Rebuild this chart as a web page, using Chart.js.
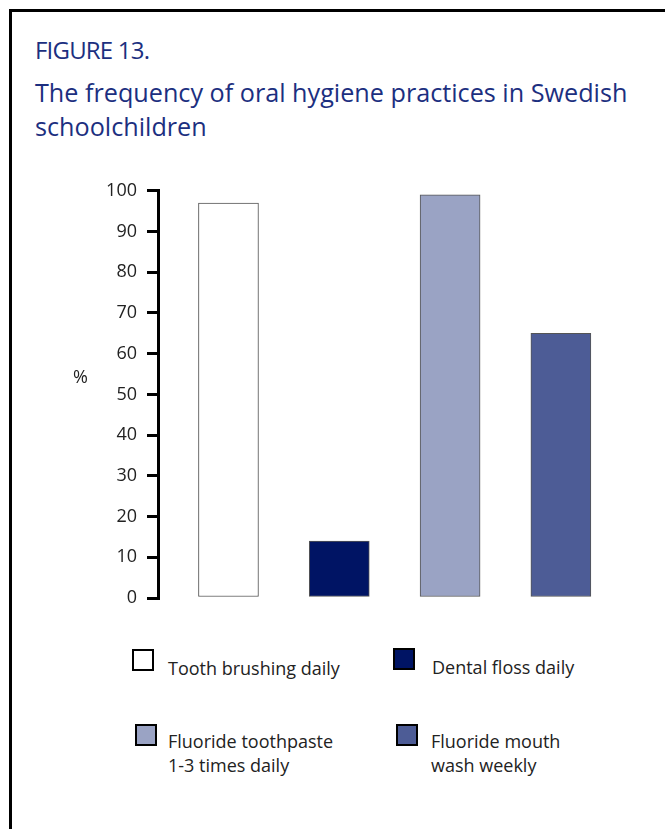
<!DOCTYPE html>
<html>
<head>
<meta charset="utf-8">
<script src="https://cdn.jsdelivr.net/npm/chart.js@4/dist/chart.umd.min.js"></script>
<style>
  body { margin: 0; background: #fff; width: 665px; height: 829px; overflow: hidden; position: relative; font-family: "Open Sans", sans-serif; }
  .frame { position: absolute; left: 9px; top: 9px; width: 700px; height: 900px; border-left: 3px solid #000; border-top: 3px solid #000; }
  .fig { position: absolute; left: 35px; top: 38px; font-size: 24px; line-height: 24px; color: #1c2f80; letter-spacing: -0.8px; }
  .sub { position: absolute; left: 35px; top: 75px; font-size: 25.2px; line-height: 34px; color: #1c2f80; width: 625px; }
  #chart { position: absolute; left: 0; top: 170px; }
  .pct { position: absolute; left: 73px; top: 364px; font-size: 18px; line-height: 24px; color: #222; }
  .leg { position: absolute; font-size: 18px; line-height: 24px; color: #222; }
  .box { position: absolute; width: 22px; height: 22px; box-sizing: border-box; border: 2.5px solid #000; }
</style>
</head>
<body>
<div class="frame"></div>
<div class="fig">FIGURE 13.</div>
<div class="sub">The frequency of oral hygiene practices in Swedish schoolchildren</div>
<canvas id="chart" width="665" height="450"></canvas>
<div class="pct">%</div>
<div id="legend"></div>
<script>
// Data
const categories = ['Tooth brushing daily', 'Dental floss daily', 'Fluoride toothpaste 1-3 times daily', 'Fluoride mouth wash weekly'];
const legendLines = [['Tooth brushing daily'], ['Dental floss daily'], ['Fluoride toothpaste', '1-3 times daily'], ['Fluoride mouth', 'wash weekly']];
const values = [97, 14, 99, 65];
const barColors = ['#ffffff', '#001464', '#9aa3c4', '#4d5c96'];
const yTicks = [0, 10, 20, 30, 40, 50, 60, 70, 80, 90, 100];

// legend, 2 x 2 grid
const legendPos = [
    { box: [132, 649], text: [168, 656] },
    { box: [393, 648], text: [432, 655] },
    { box: [135, 724], text: [168, 729] },
    { box: [396, 724], text: [431, 729] }
];
const legendEl = document.getElementById('legend');
legendLines.forEach((lines, i) => {
    const p = legendPos[i];
    const b = document.createElement('div');
    b.className = 'box';
    b.style.left = p.box[0] + 'px';
    b.style.top = p.box[1] + 'px';
    b.style.background = barColors[i];
    legendEl.appendChild(b);
    const t = document.createElement('div');
    t.className = 'leg';
    t.style.left = p.text[0] + 'px';
    t.style.top = p.text[1] + 'px';
    t.innerHTML = lines.join('<br>');
    legendEl.appendChild(t);
});

const ctx = document.getElementById('chart');
new Chart(ctx, {
    type: 'bar',
    data: {
        datasets: [{
            label: '%',
            data: values.map((v, i) => ({ x: i + 1, y: v })),
            backgroundColor: barColors,
            borderColor: '#555',
            borderWidth: 1,
            borderSkipped: false,
            barThickness: 60
        }]
    },
    options: {
        responsive: false,
        animation: false,
        layout: { padding: { top: 19, bottom: 22, right: 25, left: 0 } },
        plugins: {
            legend: { display: false },
            tooltip: { enabled: false }
        },
        scales: {
            x: {
                type: 'linear',
                display: false,
                offset: false,
                min: 0.364,
                max: 4.714
            },
            y: {
                min: 0,
                max: 100,
                afterFit: function(scale) { scale.width = 158; },
                afterBuildTicks: function(scale) {
                    scale.ticks = yTicks.map(v => ({ value: v }));
                },
                border: { display: true, color: '#000', width: 3 },
                grid: {
                    drawOnChartArea: false,
                    drawTicks: true,
                    tickLength: 11,
                    color: '#000',
                    lineWidth: 3
                },
                ticks: {
                    padding: 10,
                    color: '#222',
                    font: { family: 'Open Sans', size: 18 }
                }
            }
        }
    }
});
</script>
</body>
</html>
